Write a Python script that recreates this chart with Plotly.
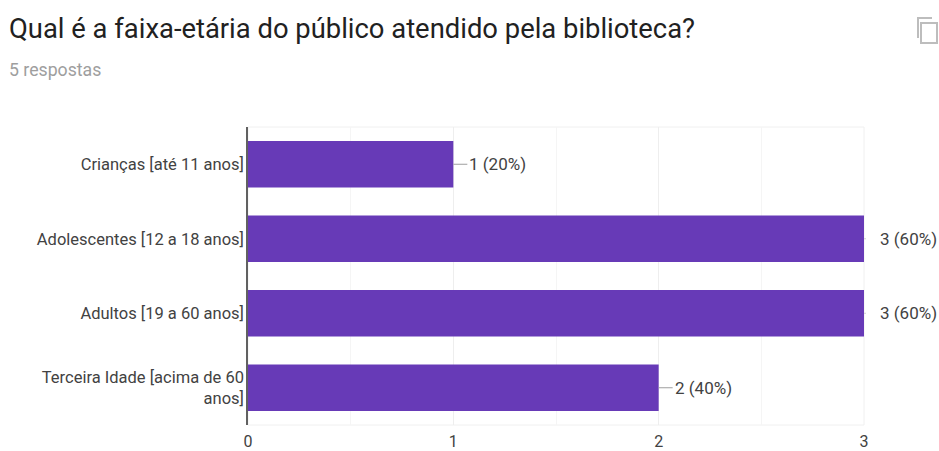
import plotly.graph_objects as go

categories = [
    "Crianças [até 11 anos]",
    "Adolescentes [12 a 18 anos]",
    "Adultos [19 a 60 anos]",
    "Terceira Idade [acima de 60<br>anos]",
]
counts = [1, 3, 3, 2]
percent_labels = ["1 (20%)", "3 (60%)", "3 (60%)", "2 (40%)"]
x_ticks = [0, 1, 2, 3]

PURPLE = "#673ab7"
FONT = "Roboto, Arial, sans-serif"

# Plot area in page pixels; paper coordinates are derived from it
LEFT, RIGHT, TOP, BOTTOM = 248, 864, 127, 425


def px_x(v):
    return (v - LEFT) / (RIGHT - LEFT)


def px_y(v):
    return (BOTTOM - v) / (BOTTOM - TOP)


fig = go.Figure(
    go.Bar(
        x=counts,
        y=categories,
        orientation="h",
        width=0.625,
        marker=dict(color=PURPLE, line=dict(width=0)),
        hoverinfo="skip",
    )
)

# Value labels joined to the bar ends by thin leader lines
for value, category, label in zip(counts, categories, percent_labels):
    at_edge = value == max(x_ticks)
    fig.add_annotation(
        x=value,
        y=category,
        xref="x",
        yref="y",
        text=label,
        showarrow=True,
        arrowhead=0,
        arrowwidth=1,
        arrowcolor="#d0d0d0" if at_edge else "#9e9e9e",
        startstandoff=12 if at_edge else 0,
        ax=14,
        ay=0,
        axref="pixel",
        ayref="pixel",
        xanchor="left",
        font=dict(family=FONT, size=17, color="#424242"),
    )

# Question heading and response count
fig.add_annotation(
    x=px_x(7), y=px_y(29), xref="paper", yref="paper",
    text="Qual é a faixa-etária do público atendido pela biblioteca?",
    showarrow=False, xanchor="left", yanchor="middle",
    font=dict(family=FONT, size=27.4, color="#212121"),
)
fig.add_annotation(
    x=px_x(7), y=px_y(70), xref="paper", yref="paper", text="5 respostas",
    showarrow=False, xanchor="left", yanchor="middle",
    font=dict(family=FONT, size=17.7, color="#9e9e9e"),
)

fig.update_layout(
    width=939,
    height=451,
    margin=dict(l=LEFT, r=939 - RIGHT, t=TOP, b=451 - BOTTOM, autoexpand=False),
    paper_bgcolor="white",
    plot_bgcolor="white",
    showlegend=False,
    font=dict(family=FONT, size=16.5, color="#424242"),
    xaxis=dict(
        range=[0, 3],
        tickvals=x_ticks,
        ticks="",
        automargin=False,
        ticklabelstandoff=5,
        showgrid=True,
        gridcolor="#eeeeee",
        gridwidth=1,
        zeroline=False,
        showline=False,
        minor=dict(dtick=0.5, showgrid=True, gridcolor="#f5f5f5", gridwidth=1),
        tickfont=dict(family=FONT, size=16, color="#424242"),
    ),
    yaxis=dict(
        autorange="reversed",
        automargin=False,
        ticklabelstandoff=-1,
        showgrid=False,
        ticks="",
        showline=True,
        linecolor="#616161",
        linewidth=1.5,
        tickfont=dict(family=FONT, size=16.5, color="#424242"),
    ),
)

# Faint frame around the plot area
fig.add_shape(type="rect", xref="paper", yref="paper", layer="below",
              x0=0, x1=1, y0=0, y1=1,
              line=dict(color="#f0f0f0", width=1))

# Copy icon at the top right of the card
fig.add_shape(type="rect", xref="paper", yref="paper",
              x0=px_x(921), x1=px_x(937), y0=px_y(23), y1=px_y(43),
              line=dict(color="#bdbdbd", width=2), fillcolor="white")
fig.add_shape(type="path", xref="paper", yref="paper",
              path=f"M {px_x(932)} {px_y(18)} L {px_x(918)} {px_y(18)} L {px_x(918)} {px_y(38)}",
              line=dict(color="#bdbdbd", width=2))

fig.write_html("out.html")
